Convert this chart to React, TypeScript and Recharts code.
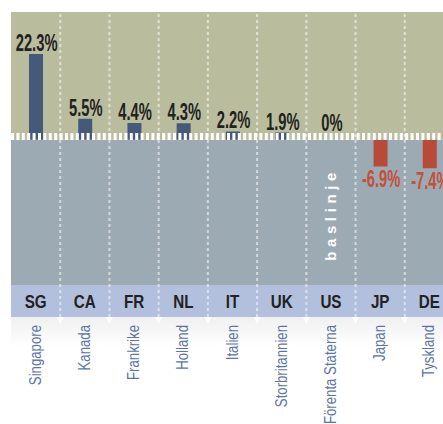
import { ComposedChart, Bar, Line, XAxis, YAxis, ReferenceArea, ReferenceLine, LabelList, Cell } from "recharts"

const codes = ["SG", "CA", "FR", "NL", "IT", "UK", "US", "JP", "DE"]
const names = ["Singapore", "Kanada", "Frankrike", "Holland", "Italien", "Storbritannien", "Förenta Staterna", "Japan", "Tyskland"]
const values = [22.3, 5.5, 4.4, 4.3, 2.2, 1.9, 0, -6.9, -7.4]

const data = values.map((v, i) => ({ idx: i, value: v }))

const OLIVE = "#babd9d"
const STEEL = "#9caab3"
const BAND = "#b2bfdd"
const FONT = "'Liberation Sans', Arial, sans-serif"

const Y_TOP = 33.2
const Y_BASE = -37.7
const Y_BOTTOM = -46

// squeezed text, since no condensed face is around
function Narrow({ x, y, sx, rotate = 0, children, ...rest }: any) {
  return (
    <text transform={`translate(${x},${y}) rotate(${rotate}) scale(${sx},1)`} fontFamily={FONT} {...rest}>
      {children}
    </text>
  )
}

function CountryTick({ x, y, payload }: any) {
  const i = payload.value
  return (
    <g>
      <Narrow x={x} y={y - 9} sx={0.8} textAnchor="middle" fontWeight="bold" fontSize={19} fill="#222">
        {codes[i]}
      </Narrow>
      <Narrow x={x + 5} y={y + 8} sx={0.8} rotate={-90} textAnchor="end" fontSize={16.5} fill="#5d74a6">
        {names[i]}
      </Narrow>
    </g>
  )
}

// labels hang off the line points, so the zero value gets one too
function ValueLabel(props: any) {
  const { x, y, value } = props
  const neg = value < 0
  return (
    <Narrow
      x={x + 1}
      y={neg ? y + 21 : y - (value === 0 ? 9 : 3)}
      sx={0.64}
      textAnchor="middle"
      fontWeight="bold"
      fontSize={23}
      fill={neg ? "#c4503b" : "#222"}
    >
      {`${value}%`}
    </Narrow>
  )
}

function Separator(p: any) {
  return (
    <g>
      <line x1={p.x1} y1={p.y1} x2={p.x2} y2={p.y2} stroke="#fff" strokeOpacity={0.55} strokeWidth={2} strokeDasharray="3 3" />
      <polygon points={`${p.x1 - 3.5},${p.y1} ${p.x1 + 3.5},${p.y1} ${p.x1},${p.y1 + 7}`} fill="#fff" />
    </g>
  )
}

function BaselineText({ viewBox }: any) {
  const cx = viewBox.x + viewBox.width / 2
  const cy = viewBox.y + viewBox.height / 2
  return (
    <text
      transform={`translate(${cx + 5},${cy + 2}) rotate(-90)`}
      textAnchor="middle"
      fontFamily={FONT}
      fontWeight="bold"
      fontSize={15}
      letterSpacing={4.6}
      fill="#fff"
    >
      baslinje
    </text>
  )
}

export default function App() {
  return (
    <div style={{ position: "absolute", left: 0, top: 0, width: 443, height: 424, overflow: "hidden", background: "#fff" }}>
      <div
        style={{
          position: "absolute",
          left: 11,
          top: 317,
          width: 432,
          height: 30,
          background: "linear-gradient(to bottom, rgba(0,0,0,0.06), rgba(0,0,0,0))",
        }}
      />
      <div style={{ position: "absolute", left: 0, top: 0 }}>
        <ComposedChart width={460} height={424} data={data} margin={{ top: 12, right: 6, left: 11, bottom: 0 }}>
          <XAxis
            type="number"
            dataKey="idx"
            domain={[-0.5, 8.5]}
            ticks={[0, 1, 2, 3, 4, 5, 6, 7, 8]}
            axisLine={false}
            tickLine={false}
            tickSize={0}
            tickMargin={0}
            height={107}
            interval={0}
            tick={<CountryTick />}
          />
          <YAxis hide domain={[Y_BOTTOM, Y_TOP]} allowDataOverflow />
          <ReferenceArea y1={0} y2={Y_TOP} fill={OLIVE} fillOpacity={1} stroke="none" />
          <ReferenceArea y1={Y_BASE} y2={0} fill={STEEL} fillOpacity={1} stroke="none" />
          <ReferenceArea y1={Y_BOTTOM} y2={Y_BASE} fill={BAND} fillOpacity={1} stroke="none" />
          <ReferenceArea x1={5.5} x2={6.5} y1={Y_BASE} y2={0} fill="none" stroke="none" label={<BaselineText />} />
          {[0, 1, 2, 3, 4, 5, 6, 7].map((i) => (
            <ReferenceLine key={i} x={i + 0.5} shape={<Separator />} />
          ))}
          <Bar dataKey="value" barSize={14} isAnimationActive={false}>
            {data.map((d) => (
              <Cell key={d.idx} fill={d.value < 0 ? "#b84a39" : "#45597a"} />
            ))}
          </Bar>
          <ReferenceLine y={0.9} stroke="#fff" strokeWidth={7} strokeDasharray="3 2.4" />
          <Line dataKey="value" stroke="none" dot={false} activeDot={false} isAnimationActive={false}>
            <LabelList dataKey="value" content={<ValueLabel />} />
          </Line>
        </ComposedChart>
      </div>
    </div>
  )
}
